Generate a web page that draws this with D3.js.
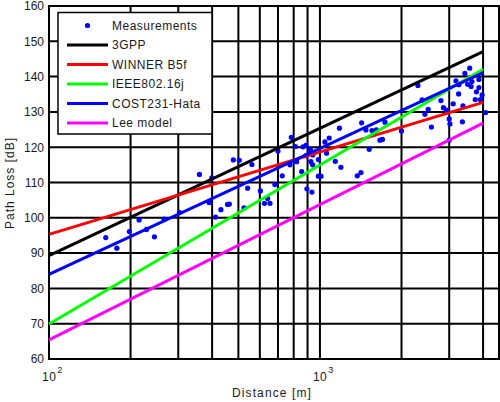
<!DOCTYPE html>
<html><head><meta charset="utf-8">
<script src="https://cdn.jsdelivr.net/npm/d3@7"></script>
<style>
body{margin:0;background:#fff;}
text{font-family:"Liberation Sans",Arial,sans-serif;fill:#1a1a1a;}
</style></head>
<body><svg id="c" width="500" height="402"></svg>
<script>
// Measurements: distance [m] and path loss [dB]
const measDist = [162,178,198,215,229,245,266,303,359,399,390,412,431,456,463,479,504,541,524,561,
603,624,654,641,682,726,700,784,812,866,888,922,940,888,926,940,987,895,934,987,
1009,1043,1082,1058,1139,1195,1180,1373,1417,1425,1478,1556,1614,1738,1665,1701,1520,1999,2299,2383,
2510,2441,2579,2796,2856,2930,3000,3018,3000,3104,3176,3249,3356,3371,3428,3571,3508,3614,3639,3781,
3862,3862,3968,3742,3908,4087,3257,775,820,856];
const measLoss = [94.4,91.4,96.1,99.4,96.7,94.6,99.6,101.5,112.3,111.3,104.3,100.2,102.3,103.8,103.9,116.4,116.3,108.4,102.8,115.1,
107.6,104.1,104.1,105.5,109.4,111.9,118.9,122.8,120.2,120.1,120.5,119.3,117.8,117.6,115.9,115.0,116.5,108.2,107.3,111.8,
111.8,121.5,122.6,118.3,116.0,114.3,125.4,111.9,112.8,126.9,124.9,124.7,124.9,127.1,122.0,122.2,119.4,124.6,137.5,133.4,
130.7,129.3,125.7,133.2,131.2,130.5,128.0,126.6,122.0,132.3,138.8,135.1,127.2,131.7,140.9,142.4,137.8,137.2,138.6,135.7,
139.2,136.9,134.8,133.5,133.5,129.8,137.7,115.0,115.9,113.1];

// Model lines (straight on log-distance axis), endpoints
const modelDist = [100, 4000];
const gpp3 = [89.3, 147.1];
const winnerB5f = [95.3, 132.7];
const ieee80216j = [69.9, 142.1];
const cost231 = [84.0, 141.1];
const leeModel = [65.4, 126.8];

const seriesNames = ["3GPP","WINNER B5f","IEEE802.16j","COST231-Hata","Lee model"];
const seriesColors = ["#000000","#ff0000","#00ff00","#0000ff","#ff00ff"];
const seriesVals = [gpp3, winnerB5f, ieee80216j, cost231, leeModel];

const yTicks = [60,70,80,90,100,110,120,130,140,150,160];
const xGrid = [200,300,400,500,600,700,800,900,1000,2000,3000,4000];
const xLabelTicks = [{v:100,e:"2"},{v:1000,e:"3"}];

const svg = d3.select("#c");
const L=49,R=499,T=6,B=359;
const x = d3.scaleLog().domain([100,4580]).range([L,R]);
const y = d3.scaleLinear().domain([60,160]).range([B,T]);

// grid
const g = svg.append("g");
g.selectAll(".vg").data(xGrid).enter().append("line")
 .attr("x1",d=>x(d)).attr("x2",d=>x(d)).attr("y1",T).attr("y2",B)
 .attr("stroke","#000").attr("stroke-width",2);
g.selectAll(".hg").data(yTicks).enter().append("line")
 .attr("x1",L).attr("x2",R).attr("y1",d=>y(d)).attr("y2",d=>y(d))
 .attr("stroke","#000").attr("stroke-width",2);
svg.append("rect").attr("x",L).attr("y",T).attr("width",R-L).attr("height",B-T)
 .attr("fill","none").attr("stroke","#000").attr("stroke-width",2);

// measurements
const meas = measDist.map((d,i)=>({d, v:measLoss[i]}));
svg.append("g").selectAll("circle").data(meas).enter().append("circle")
 .attr("cx",d=>x(d.d)).attr("cy",d=>y(d.v)).attr("r",2.6).attr("fill","#0000ff");

// model lines
const line = d3.line().x(d=>x(d[0])).y(d=>y(d[1]));
seriesVals.forEach((vals,i)=>{
  svg.append("path").datum(modelDist.map((d,j)=>[d,vals[j]]))
   .attr("d",line).attr("fill","none").attr("stroke",seriesColors[i]).attr("stroke-width",3);
});

// y tick labels
svg.append("g").selectAll("text").data(yTicks).enter().append("text")
 .attr("x",44).attr("y",d=>y(d)).attr("dy","0.36em").attr("text-anchor","end")
 .attr("font-size",12).text(d=>d);

// x tick labels
xLabelTicks.forEach(t=>{
  const tx = svg.append("text").attr("x",x(t.v)-7).attr("y",381).attr("font-size",12).attr("letter-spacing",0.5);
  tx.append("tspan").text("10");
  tx.append("tspan").attr("dy",-8).attr("font-size",9).attr("dx",1).text(t.e);
});

// axis titles
svg.append("text").attr("x",272).attr("y",397).attr("text-anchor","middle")
 .attr("font-size",12).attr("letter-spacing",1.1).text("Distance [m]");
svg.append("text").attr("transform","translate(14,183) rotate(-90)").attr("text-anchor","middle")
 .attr("font-size",12).attr("letter-spacing",1).text("Path Loss [dB]");

// legend
const lg = svg.append("g");
lg.append("rect").attr("x",58).attr("y",12.5).attr("width",154).attr("height",121.5)
 .attr("fill","#fff").attr("stroke","#000").attr("stroke-width",1.5);
const legItems = [{name:"Measurements",type:"dot",color:"#0000ff"}]
  .concat(seriesNames.map((n,i)=>({name:n,type:"line",color:seriesColors[i]})));
legItems.forEach((it,i)=>{
  const cy = 25.5 + i*19.5;
  if(it.type==="dot"){
    lg.append("circle").attr("cx",87.5).attr("cy",cy).attr("r",2.6).attr("fill",it.color);
  } else {
    lg.append("line").attr("x1",67).attr("x2",108).attr("y1",cy).attr("y2",cy)
      .attr("stroke",it.color).attr("stroke-width",3);
  }
  lg.append("text").attr("x",112).attr("y",cy).attr("dy","0.36em").attr("font-size",12)
    .attr("letter-spacing",0.5).text(it.name);
});
</script></body></html>
